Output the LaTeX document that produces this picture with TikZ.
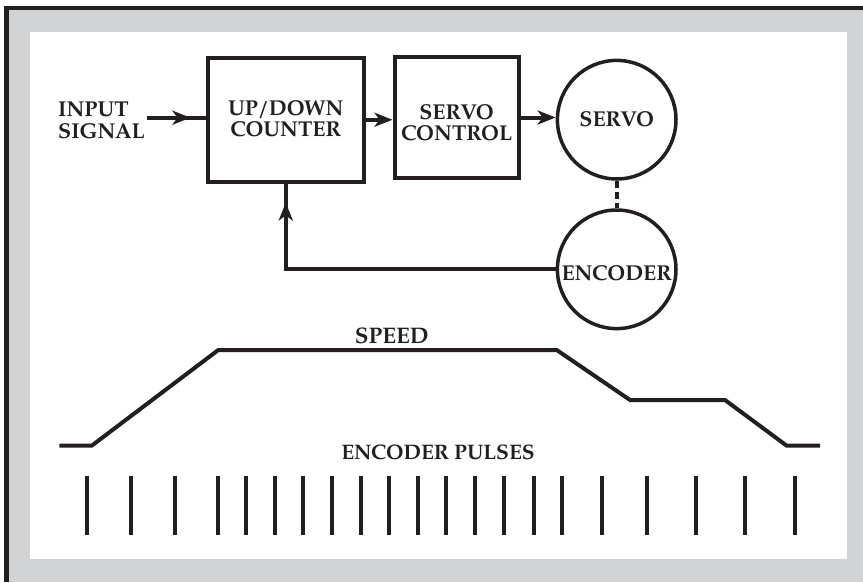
\documentclass[tikz,border=0pt]{standalone}
\usepackage{fontspec}
\setmainfont{texgyrepagella}[Extension=.otf, UprightFont=*-regular, BoldFont=*-bold]
\usetikzlibrary{arrows.meta,decorations.markings,calc}
\definecolor{ink}{HTML}{231F20}
\definecolor{framegray}{HTML}{D1D3D4}
\newcommand\lblfont{\bfseries\fontsize{21.5}{21.5}\selectfont}
\newcommand\speedfont{\bfseries\fontsize{22.5}{22.5}\selectfont}
\newcommand\smallfont{\bfseries\fontsize{21}{21}\selectfont}
\begin{document}
\begin{tikzpicture}[x=1pt,y=-1pt,
  blk/.style={draw=ink, line width=4pt, rectangle, inner sep=0pt},
  circ/.style={draw=ink, line width=3.5pt, circle, minimum size=118.6pt, inner sep=0pt, font=\lblfont, text=ink},
  txt/.style={font=\lblfont, text=ink, inner sep=0pt},
  conn/.style={draw=ink, line width=4pt},
  tipA/.style={-{Stealth[length=18pt,width=14pt,inset=5pt]}},
  midtip/.style={postaction={decorate}, decoration={markings, mark=at position #1 with {\arrow{Stealth[length=18pt,width=14pt,inset=5pt]}}}},
  pulse/.style={draw=ink, line width=4pt},
  curve/.style={draw=ink, line width=4pt, line join=miter}]
\useasboundingbox (0,0) rectangle (863,582);
% frame
\fill[white] (0,0) rectangle (863,582);
\fill[framegray] (4,6) rectangle (863,582);
\fill[white] (30,32) rectangle (847,559);
\draw[ink, line width=4.5pt, line join=miter] (6.5,582) -- (6.5,8) -- (863,8);
% blocks
\node[blk, minimum width=156.5pt, minimum height=123.5pt] (cnt) at (285.75,119.75) {};
\node[blk, minimum width=124.2pt, minimum height=121pt] (ctl) at (456.6,117.5) {};
\node[circ, text height=14pt, text depth=0pt] (srv) at (616.7,119.7) {SERVO};
\node[circ, text height=21.4pt, text depth=0pt] (enc) at (616.7,269.3) {ENCODER};
% labels
\node[txt, anchor=north west, align=left] (inlbl) at (58,101.7) {INPUT\\SIGNAL};
\node[txt, anchor=north, align=center] (cntlbl) at (285.75,100) {UP/DOWN\\COUNTER};
\node[txt, anchor=north, align=center] (ctllbl) at (456.6,104) {SERVO\\CONTROL};
% connectors
\coordinate (inS) at (146.7,117.7);
\draw[conn, midtip=-15pt] (inS) -- (inS -| cnt.west);
\draw[conn, tipA] (cnt.east) -- (cnt.east -| ctl.west);
\draw[conn, tipA] (ctl.east) -- (ctl.east -| srv.west);
\draw[ink, line width=4pt, dash pattern=on 7pt off 4pt] (srv.south) -- (enc.north);
\draw[conn, midtip=-19pt] (enc.west) -- (enc.west -| cnt.south) -- (cnt.south);
% speed profile
\node[txt, font=\speedfont, anchor=base] (speed) at (391.7,343.3) {SPEED};
\draw[curve] (59.3,445.7) -- (91.7,445.7) -- (218.3,350) -- (556.7,350) -- (630,400) -- (725,400) -- (786.7,445.7) -- (820,445.7);
% encoder pulses
\node[txt, font=\smallfont, anchor=base] (pulses) at (438,459.3) {ENCODER PULSES};
\foreach \x in {87.3,130.7,175,217.7,245.7,275,303.3,331.7,361,389.3,418.3,446,475,504,534,562,601.7,647,695.5,745,795}
  \draw[pulse] (\x,476) -- (\x,535);
\end{tikzpicture}
\end{document}
